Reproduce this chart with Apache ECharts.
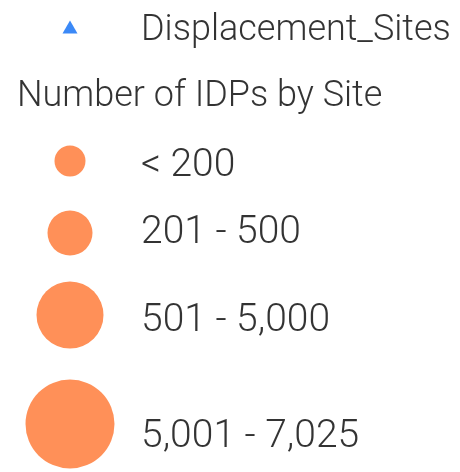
<!DOCTYPE html>
<html><head><meta charset="utf-8">
<script src="https://cdn.jsdelivr.net/npm/echarts@6/dist/echarts.min.js"></script>
<style>html,body{margin:0;padding:0;background:#fff}#c{width:460px;height:472px}</style>
</head><body><div id="c"></div>
<script>
// Legend content
const pointLabel = 'Displacement_Sites';
const sectionTitle = 'Number of IDPs by Site';
const classLabels = ['< 200', '201 - 500', '501 - 5,000', '5,001 - 7,025'];
const classSymbolSizes = [31, 45, 67, 89];

// layout (pixel positions in a 460x472 frame)
const symbolX = 70, textX = 141, titleX = 17;
const pointRowY = 27, pointTextY = 31, titleY = 96.5;
const classRowY = [161, 233, 315, 424];
const classTextY = [166, 233, 321.5, 437.5];

const baseText = {color:'#000', fontFamily:'Roboto', fontWeight:300};
const chart = echarts.init(document.getElementById('c'), null, {renderer:'canvas'});
chart.setOption({
  animation:false,
  grid:{left:0,right:0,top:0,bottom:0},
  xAxis:{type:'value',min:0,max:460,show:false},
  yAxis:{type:'value',min:0,max:472,inverse:true,show:false},
  series:[
    {type:'scatter', symbol:'triangle', symbolSize:[15,13],
     itemStyle:{color:'#0A6CF5'}, data:[[symbolX, pointRowY]]},
    {type:'scatter', symbol:'circle', itemStyle:{color:'#FF9058', opacity:1},
     data: classSymbolSizes.map((s,i)=>({value:[symbolX, classRowY[i]], symbolSize:s}))},
    {type:'scatter', symbolSize:0, silent:true,
     label:{show:true, position:'right', distance:0, formatter:p=>p.name, ...baseText, fontSize:36},
     data: [
       {name:pointLabel, value:[textX, pointTextY]},
       {name:sectionTitle, value:[titleX, titleY]}
     ]},
    {type:'scatter', symbolSize:0, silent:true,
     label:{show:true, position:'right', distance:0, formatter:p=>p.name, ...baseText, fontSize:39},
     data: classLabels.map((t,i)=>({name:t, value:[textX, classTextY[i]]}))}
  ]
});
</script></body></html>
